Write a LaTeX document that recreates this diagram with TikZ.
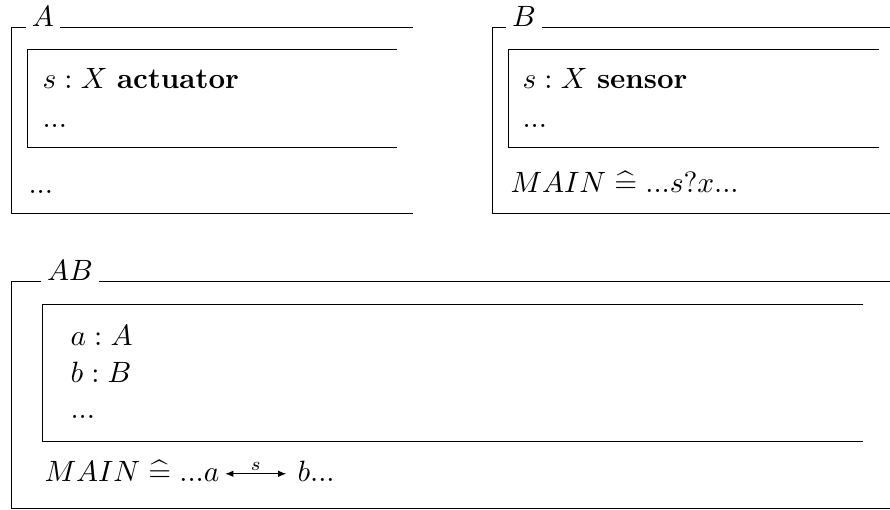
\documentclass[tikz,border=0pt]{standalone}
\usepackage{amsmath}
\usetikzlibrary{arrows.meta, positioning}
\newcommand{\zdefs}{\mathrel{\widehat{=}}}

\begin{document}
\begin{tikzpicture}[
  x=0.373pt, y=-0.373pt,
  font=\fontsize{10.8}{13}\selectfont,
  frame/.style={line width=0.35pt, black},
  ztitle/.style={anchor=base, inner xsep=2pt, inner ysep=0pt},
  zline/.style={anchor=base west, inner sep=0pt},
  chan/.style={{Latex[length=3pt,width=2.4pt]}-{Latex[length=3pt,width=2.4pt]}, line width=0.4pt}
]
  \useasboundingbox (0,0) rectangle (890,509);

  % schema A
  \node[ztitle] (tA) at (43,26) {$A$};
  \draw[frame] (tA.east |- 0,27) -- (413,27);
  \draw[frame] (tA.west |- 0,27) -- (11,27) -- (11,213) -- (413,213);
  \draw[frame] (397,49) -- (27,49) -- (27,147) -- (397,147);
  \node[zline] (sA) at (42,88) {$s : X$ \textbf{actuator}};
  \node[zline] (dA) at (42,127) {$...$};
  \node[zline] (oA) at (28,193) {$...$};

  % schema B
  \node[ztitle] (tB) at (524,26) {$B$};
  \draw[frame] (tB.east |- 0,27) -- (890,27);
  \draw[frame] (tB.west |- 0,27) -- (492,27) -- (492,213) -- (890,213);
  \draw[frame] (879,49) -- (508,49) -- (508,147) -- (879,147);
  \node[zline] (sB) at (522,88) {$s : X$ \textbf{sensor}};
  \node[zline] (dB) at (522,127) {$...$};
  \node[zline] (mB) at (510,192) {$MAIN \zdefs ...s?x...$};

  % schema AB
  \node[ztitle] (tAB) at (70,280) {$AB$};
  \draw[frame] (tAB.east |- 0,281) -- (890,281);
  \draw[frame] (tAB.west |- 0,281) -- (11,281) -- (11,508) -- (890,508);
  \draw[frame] (863,304) -- (42,304) -- (42,441) -- (863,441);
  \node[zline] (ia) at (70,345) {$a : A$};
  \node[zline] (ib) at (70,382) {$b : B$};
  \node[zline] (dAB) at (70,418) {$...$};
  \node[zline] (mAB) at (44,481) {$MAIN \zdefs ...a$};
  \node[zline] (bAB) at (297,481) {$b...$};
  \draw[chan] ([xshift=2pt,yshift=2.7pt]mAB.base east) --
    node[above, font=\scriptsize, inner sep=1pt] {$s$}
    ([xshift=-4pt,yshift=2.7pt]bAB.base west);

\end{tikzpicture}
\end{document}
